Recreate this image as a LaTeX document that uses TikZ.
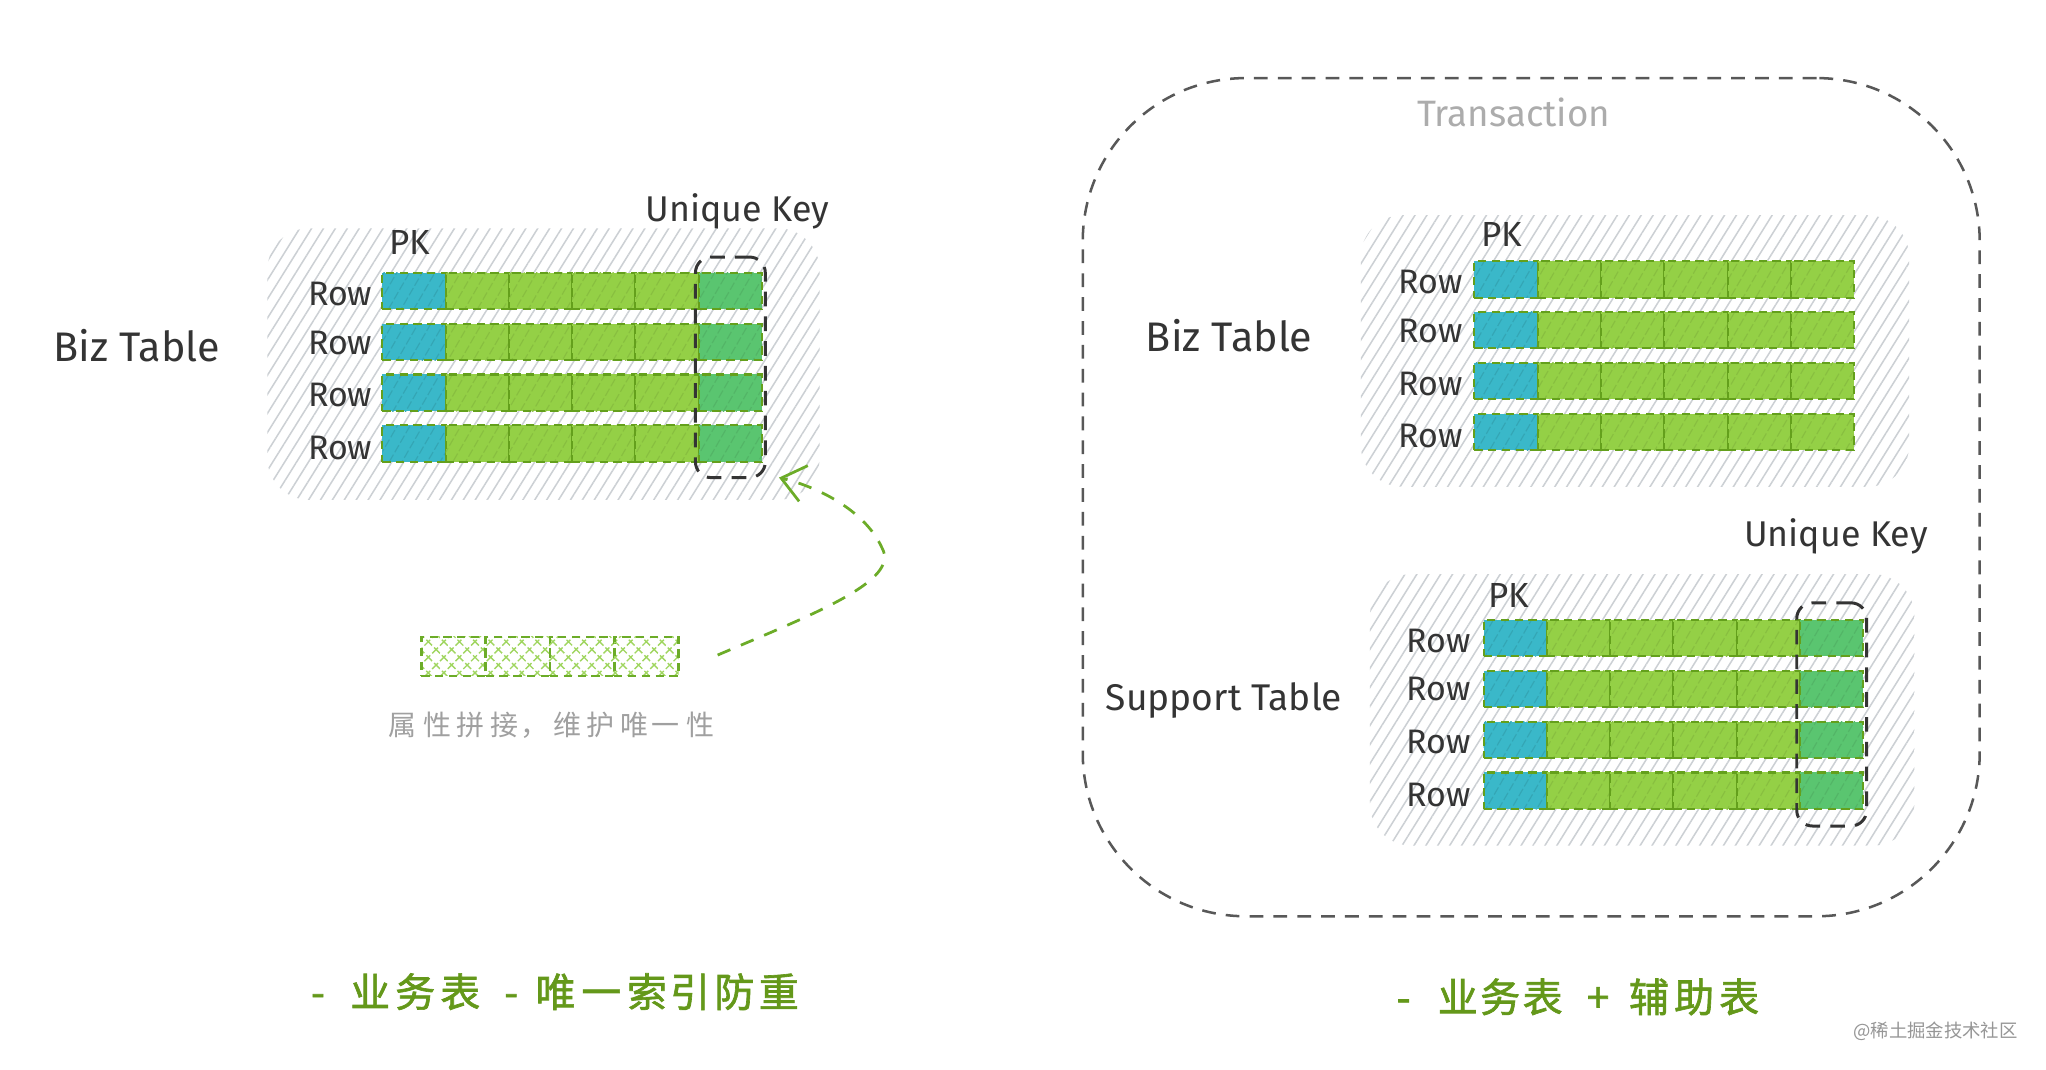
\documentclass[tikz,border=0pt]{standalone}
\usepackage{fontspec}
\setmainfont{Fira Sans}
\newfontfamily\cjk{Noto Sans CJK SC}
\newfontfamily\cjkheavy{Noto Sans CJK SC}[FakeBold=1.6]
\usetikzlibrary{patterns.meta,arrows.meta,fit}
\definecolor{pkblue}{RGB}{58,184,201}
\definecolor{cellgreen}{RGB}{148,208,70}
\definecolor{keygreen}{RGB}{90,197,112}
\definecolor{celledge}{RGB}{100,160,28}
\definecolor{hatchgray}{RGB}{204,208,212}
\definecolor{inkdark}{RGB}{52,52,52}
\definecolor{captgreen}{RGB}{100,152,26}
\definecolor{arrowgreen}{RGB}{108,172,40}
\definecolor{xgreen}{RGB}{160,214,96}
\definecolor{txgray}{RGB}{88,88,88}
\definecolor{txlight}{RGB}{172,172,172}
\definecolor{capgray}{RGB}{160,160,160}
\definecolor{wmgray}{RGB}{150,150,150}
\tikzset{
  cellbase/.style={draw=celledge, line width=0.45pt, dash pattern=on 1.8pt off 1.2pt,
    minimum width=0.485cm, minimum height=0.28cm, inner sep=0pt, outer sep=0pt,
    pattern={Lines[angle=60,distance=2.4pt,line width=0.25pt]}},
  pkcell/.style={cellbase, preaction={fill=pkblue}, pattern color=pkblue!90!black},
  gcell/.style={cellbase, preaction={fill=cellgreen}, pattern color=cellgreen!92!black},
  kcell/.style={cellbase, preaction={fill=keygreen}, pattern color=keygreen!92!black},
  hatchbox/.style={rectangle, rounded corners=0.32cm, inner sep=0pt,
    pattern={Lines[angle=58,distance=2.2pt,line width=0.33pt]}, pattern color=hatchgray},
  keybox/.style={draw=inkdark, line width=0.65pt, dash pattern=on 3.2pt off 2.2pt,
    rounded corners=0.12cm, inner sep=0pt},
  txbox/.style={draw=txgray, line width=0.55pt, dash pattern=on 3pt off 2.2pt,
    rounded corners=1.25cm, inner sep=0pt},
  xcell/.style={draw=arrowgreen, line width=0.55pt, dash pattern=on 1.8pt off 1.2pt,
    pattern={Hatch[angle=45,distance=2.4pt,line width=0.3pt]}, pattern color=xgreen,
    minimum width=0.4925cm, minimum height=0.30cm, inner sep=0pt, outer sep=0pt},
  lab/.style={text=inkdark, font=\fontsize{9}{10}\selectfont, inner sep=0pt},
  rowlab/.style={text=inkdark, font=\fontsize{7.4}{8}\selectfont, inner sep=0pt, anchor=east},
  pklab/.style={text=inkdark, font=\fontsize{7.6}{8}\selectfont, inner sep=0pt},
  uklab/.style={text=inkdark, font=\fontsize{7.8}{9}\selectfont, inner sep=0pt},
  txlab/.style={text=txlight, font=\fontsize{8}{9}\selectfont, inner sep=0pt},
  graycap/.style={text=capgray, font=\cjk\fontsize{6.1}{7}\selectfont, inner sep=0pt, anchor=west},
  greencap/.style={text=captgreen, font=\cjkheavy\fontsize{8.7}{9}\selectfont, inner sep=0pt, anchor=west},
  wmark/.style={text=wmgray, font=\cjk\fontsize{4}{5}\selectfont, inner sep=0pt, anchor=east},
  flowarrow/.style={draw=arrowgreen, line width=0.6pt, dash pattern=on 3pt off 2.5pt,
    -{Straight Barb[length=5pt,width=8pt]}},
}
% a glyph centred on the current point, then a step to the next centre
\newcommand\gl[2]{\makebox[0pt]{#1}\hspace{#2cm}}
\newcommand\datarow[4]{%
  \node[pkcell] (#1c0) at (#2+24.25,#3) {};
  \foreach \j in {1,...,4}{\node[gcell] (#1c\j) at (#2+24.25+48.5*\j,#3) {};}
  \node[#4] (#1c5) at (#2+266.75,#3) {};
}
\begin{document}
\begin{tikzpicture}[x=0.01cm,y=-0.01cm]
\fill[white] (0,0) rectangle (1568,820);
\useasboundingbox (0,0) rectangle (1568,820);

% ---------- left: biz table with unique index ----------
\node[hatchbox, minimum width=4.23cm, minimum height=2.08cm] (Lbg) at (416.5,279) {};
\datarow{L1}{293}{223}{kcell}
\datarow{L2}{293}{262}{kcell}
\datarow{L3}{293}{301}{kcell}
\datarow{L4}{293}{340}{kcell}
\node[rowlab] (L1lab) at (286,225) {Row};
\node[rowlab] (L2lab) at (286,263) {Row};
\node[rowlab] (L3lab) at (286,303) {Row};
\node[rowlab] (L4lab) at (286,343) {Row};
\node[pklab] (Lpk) at (314,186) {PK};
\node[keybox, fit=(L1c5)(L4c5), inner xsep=0.025cm, inner ysep=0.12cm] (Lkey) {};
\node[uklab] (Luk) at (565,162) {Unique Key};
\node[lab] (Lbiz) at (105,265) {Biz Table};

% attribute strip
\foreach \j in {0,...,3}{\node[xcell] (X\j) at (323+24.625+49.25*\j,503) {};}
\node[graycap] (Xcap) at (307.8,556) {\gl{属}{0.269}\gl{性}{0.255}\gl{拼}{0.255}\gl{接}{0.235}\gl{，}{0.25}\gl{维}{0.255}\gl{护}{0.256}\gl{唯}{0.243}\gl{一}{0.268}\gl{性}{0}};
\coordinate (arrS) at (550,502);
\coordinate (arrE) at (597,366);
\draw[flowarrow] (arrS) .. controls (625,470) and (690,445) .. (676,420)
  .. controls (664,393) and (630,374) .. (arrE);

% ---------- right: transaction ----------
\node[txbox, minimum width=6.87cm, minimum height=6.42cm] (tx) at (1173.5,381) {};
\node[txlab] (txl) at (1160,86) {Transaction};

\node[hatchbox, minimum width=4.2cm, minimum height=2.08cm] (Ubg) at (1253,269) {};
\datarow{U1}{1130}{214}{gcell}
\datarow{U2}{1130}{253}{gcell}
\datarow{U3}{1130}{292}{gcell}
\datarow{U4}{1130}{331}{gcell}
\node[rowlab] (U1lab) at (1122,216) {Row};
\node[rowlab] (U2lab) at (1122,254) {Row};
\node[rowlab] (U3lab) at (1122,294) {Row};
\node[rowlab] (U4lab) at (1122,334) {Row};
\node[pklab] (Upk) at (1151,180) {PK};
\node[lab] (Ubiz) at (942,257) {Biz Table};

\node[hatchbox, minimum width=4.17cm, minimum height=2.08cm] (Sbg) at (1258.5,544) {};
\datarow{S1}{1137}{489}{kcell}
\datarow{S2}{1137}{528}{kcell}
\datarow{S3}{1137}{567}{kcell}
\datarow{S4}{1137}{606}{kcell}
\node[rowlab] (S1lab) at (1128,491) {Row};
\node[rowlab] (S2lab) at (1128,528) {Row};
\node[rowlab] (S3lab) at (1128,569) {Row};
\node[rowlab] (S4lab) at (1128,609) {Row};
\node[pklab] (Spk) at (1156,456) {PK};
\node[keybox, fit=(S1c5)(S4c5), inner xsep=0.025cm, inner ysep=0.13cm] (Skey) {};
\node[uklab] (Suk) at (1407,411) {Unique Key};
\node[lab, font=\fontsize{8.1}{9}\selectfont] (Ssup) at (938,537) {Support Table};

% ---------- captions ----------
\node[greencap] (capL) at (243,760) {\gl{-}{0.40}\gl{业}{0.345}\gl{务}{0.345}\gl{表}{0.39}\gl{-}{0.34}\gl{唯}{0.35}\gl{一}{0.35}\gl{索}{0.33}\gl{引}{0.34}\gl{防}{0.34}\gl{重}{0}};
\node[greencap] (capR) at (1075,764) {\gl{-}{0.415}\gl{业}{0.325}\gl{务}{0.325}\gl{表}{0.425}\gl{+}{0.39}\gl{辅}{0.345}\gl{助}{0.345}\gl{表}{0}};
\node[wmark] (wm) at (1547,790) {@稀土掘金技术社区};
\end{tikzpicture}
\end{document}
